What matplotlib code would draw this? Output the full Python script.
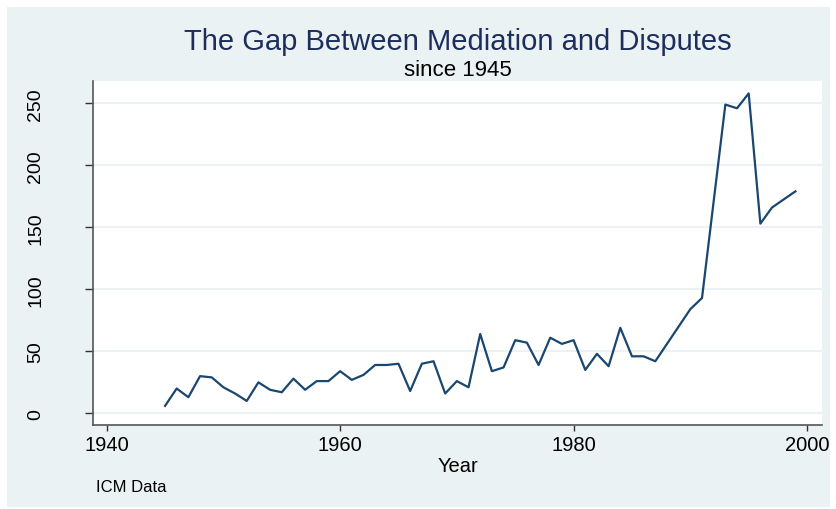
import matplotlib
matplotlib.use("Agg")
import matplotlib.pyplot as plt
from matplotlib.patches import Rectangle

years = [1945, 1946, 1947, 1948, 1949, 1950, 1951, 1952, 1953, 1954,
         1955, 1956, 1957, 1958, 1959, 1960, 1961, 1962, 1963, 1964,
         1965, 1966, 1967, 1968, 1969, 1970, 1971, 1972, 1973, 1974,
         1975, 1976, 1977, 1978, 1979, 1980, 1981, 1982, 1983, 1984,
         1985, 1986, 1987, 1990, 1991, 1993, 1994, 1995, 1996, 1997, 1999]
gap = [6, 20, 13, 30, 29, 21, 16, 10, 25, 19,
       17, 28, 19, 26, 26, 34, 27, 31, 39, 39,
       40, 18, 40, 42, 16, 26, 21, 64, 34, 37,
       59, 57, 39, 61, 56, 59, 35, 48, 38, 69,
       46, 46, 42, 84, 93, 249, 246, 258, 153, 166, 179]

x_ticks = [1940, 1960, 1980, 2000]
y_ticks = [0, 50, 100, 150, 200, 250]

BG = "#eaf2f3"
LINE = "#1a476f"
W, H = 836, 510

plt.rcParams['font.family'] = ['Liberation Sans', 'DejaVu Sans']
fig = plt.figure(figsize=(W / 100, H / 100), dpi=100, facecolor="white")
fig.patches.append(Rectangle((7 / W, 2 / H), (830 - 7) / W, (502 - 2) / H,
                             transform=fig.transFigure, facecolor=BG,
                             edgecolor="none", zorder=-5))

ax = fig.add_axes([93 / W, (H - 426) / H, (822 - 93) / W, (426 - 82) / H])
ax.set_zorder(2)
ax.set_facecolor("white")
ax.plot(years, gap, color=LINE, lw=1.6, zorder=3)

ax.set_xlim(1938.83, 2001.28)
ax.set_ylim(-9.4, 268)
ax.set_xticks(x_ticks)
ax.set_yticks(y_ticks)
ax.set_yticklabels([str(v) for v in y_ticks], rotation=90, va="center")
ax.tick_params(axis="x", labelsize=14.5, direction="out", length=4.5,
               width=1, color="#333333", labelcolor="black", pad=3)
ax.tick_params(axis="y", labelsize=14, direction="out", length=6,
               width=1, color="#333333", labelcolor="black", pad=29)
ax.yaxis.grid(True, color=BG, lw=1.5, zorder=0)
ax.xaxis.grid(False)
for s in ["top", "right"]:
    ax.spines[s].set_visible(False)
for s in ["left", "bottom"]:
    ax.spines[s].set_color("#555555")
    ax.spines[s].set_linewidth(1.2)

ax.set_xlabel("Year", fontsize=14.5, labelpad=1)

fig.text(0.5 * (93 + 822) / W, 1 - 42 / H, "The Gap Between Mediation and Disputes",
         ha="center", va="center", fontsize=21, color="#1e2e5c")
fig.text(0.5 * (93 + 822) / W, 1 - 71 / H, "since 1945",
         ha="center", va="center", fontsize=16, color="black")
fig.text(96 / W, 1 - 487 / H, "ICM Data", ha="left", va="center",
         fontsize=12, color="black")

fig.savefig("out.png", dpi=100, facecolor="white")
